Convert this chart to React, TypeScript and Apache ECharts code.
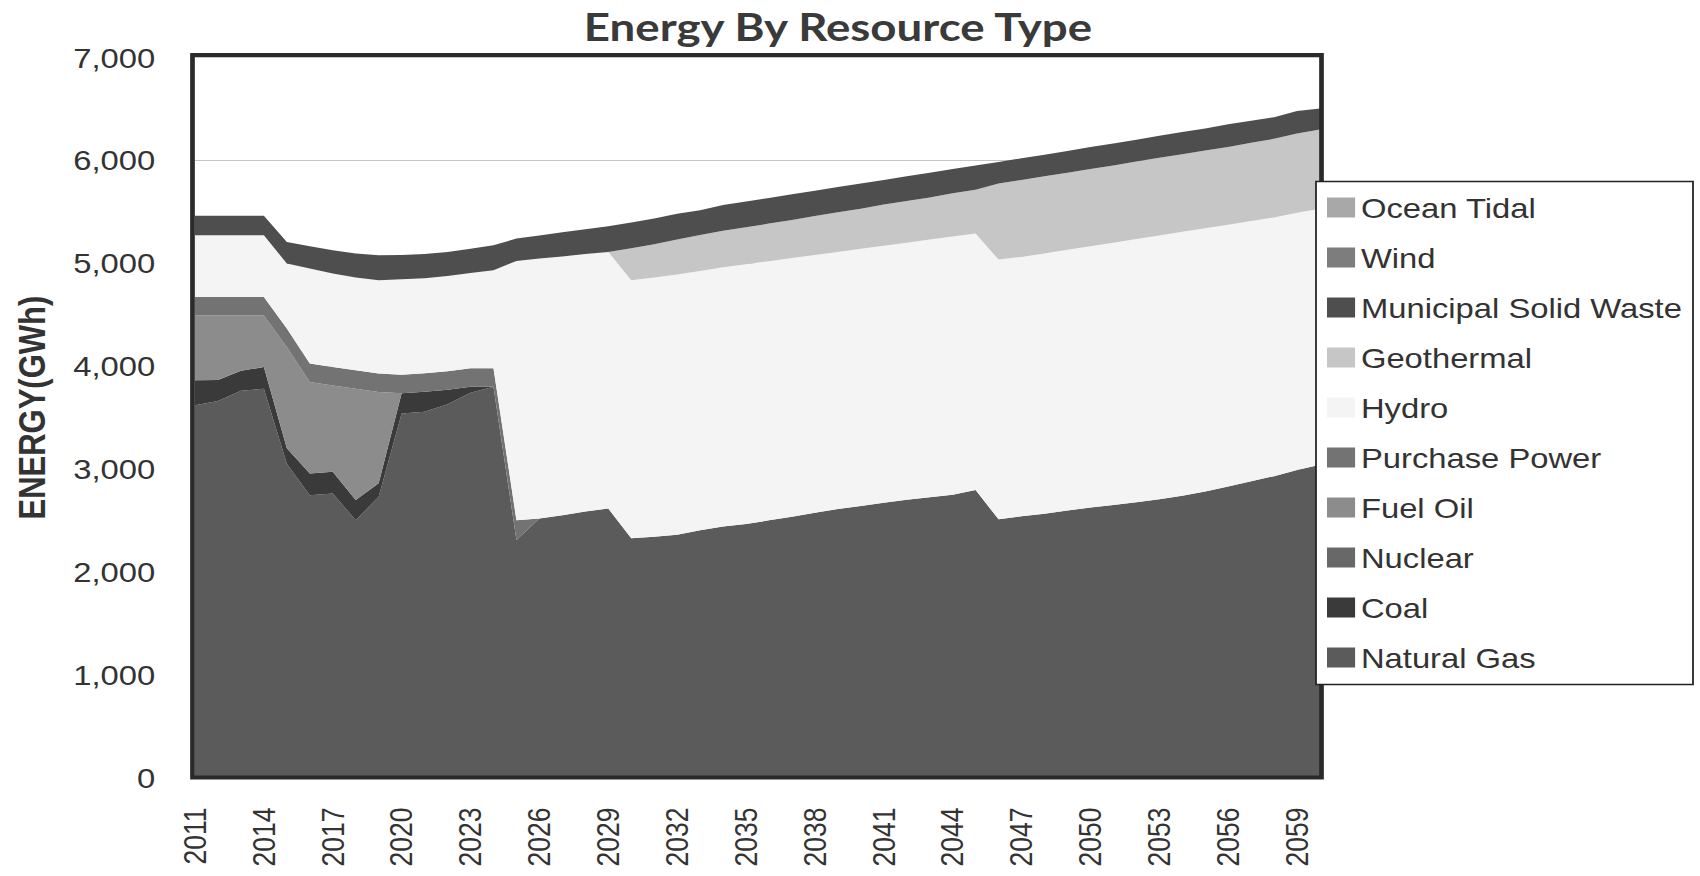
import React, { useEffect, useRef } from "react";
import * as echarts from "echarts";

// ---- data ----
const years = [
  "2011","2012","2013","2014","2015","2016","2017","2018","2019","2020",
  "2021","2022","2023","2024","2025","2026","2027","2028","2029","2030",
  "2031","2032","2033","2034","2035","2036","2037","2038","2039","2040",
  "2041","2042","2043","2044","2045","2046","2047","2048","2049","2050",
  "2051","2052","2053","2054","2055","2056","2057","2058","2059","2060",
];

const naturalGas = [
  3620, 3660, 3760, 3780, 3050, 2745, 2762, 2502, 2730, 3540,
  3555, 3630, 3740, 3800, 2308, 2519, 2550, 2585, 2616, 2325,
  2340, 2360, 2405, 2440, 2465, 2500, 2535, 2575, 2610, 2640,
  2670, 2700, 2725, 2750, 2794, 2510, 2540, 2565, 2595, 2625,
  2650, 2675, 2705, 2740, 2780, 2830, 2880, 2930, 2990, 3040,
];
const coal = [
  243, 204, 194, 210, 150, 211, 210, 195, 130, 195,
  195, 140, 60, 0, 0, 0, 0, 0, 0, 0,
  0, 0, 0, 0, 0, 0, 0, 0, 0, 0,
  0, 0, 0, 0, 0, 0, 0, 0, 0, 0,
  0, 0, 0, 0, 0, 0, 0, 0, 0, 0,
];
const nuclear = [
  0, 0, 0, 0, 0, 0, 0, 0, 0, 0,
  0, 0, 0, 0, 0, 0, 0, 0, 0, 0,
  0, 0, 0, 0, 0, 0, 0, 0, 0, 0,
  0, 0, 0, 0, 0, 0, 0, 0, 0, 0,
  0, 0, 0, 0, 0, 0, 0, 0, 0, 0,
];
const fuelOil = [
  629, 628, 538, 502, 985, 889, 840, 1083, 888, 0,
  0, 0, 0, 0, 0, 0, 0, 0, 0, 0,
  0, 0, 0, 0, 0, 0, 0, 0, 0, 0,
  0, 0, 0, 0, 0, 0, 0, 0, 0, 0,
  0, 0, 0, 0, 0, 0, 0, 0, 0, 0,
];
const purchasePower = [
  180, 180, 180, 180, 180, 180, 180, 180, 180, 180,
  180, 180, 180, 180, 194, 0, 0, 0, 0, 0,
  0, 0, 0, 0, 0, 0, 0, 0, 0, 0,
  0, 0, 0, 0, 0, 0, 0, 0, 0, 0,
  0, 0, 0, 0, 0, 0, 0, 0, 0, 0,
];
const hydro = [
  600, 600, 600, 600, 632, 923, 908, 901, 907, 930,
  925, 925, 925, 952, 2520, 2526, 2515, 2505, 2494, 2510,
  2520, 2530, 2520, 2520, 2525, 2520, 2515, 2505, 2500, 2500,
  2500, 2500, 2505, 2510, 2494, 2525, 2521, 2530, 2535, 2540,
  2550, 2560, 2565, 2565, 2560, 2545, 2530, 2515, 2500, 2490,
];
const geothermal = [
  0, 0, 0, 0, 0, 0, 0, 0, 0, 0,
  0, 0, 0, 0, 0, 0, 0, 0, 0, 310,
  325, 340, 350, 355, 360, 365, 370, 380, 385, 390,
  400, 405, 410, 420, 427, 740, 749, 750, 750, 750,
  750, 755, 755, 755, 755, 755, 760, 765, 770, 770,
];
const municipalSolidWaste = [
  190, 190, 190, 190, 210, 217, 225, 234, 243, 235,
  235, 235, 235, 243, 218, 225, 235, 240, 250, 250,
  250, 250, 240, 250, 250, 250, 250, 245, 245, 245,
  240, 240, 240, 235, 235, 210, 210, 210, 210, 215,
  215, 210, 215, 215, 215, 220, 215, 210, 220, 205,
];
const wind = [
  0, 0, 0, 0, 0, 0, 0, 0, 0, 0,
  0, 0, 0, 0, 0, 0, 0, 0, 0, 0,
  0, 0, 0, 0, 0, 0, 0, 0, 0, 0,
  0, 0, 0, 0, 0, 0, 0, 0, 0, 0,
  0, 0, 0, 0, 0, 0, 0, 0, 0, 0,
];
const oceanTidal = [
  0, 0, 0, 0, 0, 0, 0, 0, 0, 0,
  0, 0, 0, 0, 0, 0, 0, 0, 0, 0,
  0, 0, 0, 0, 0, 0, 0, 0, 0, 0,
  0, 0, 0, 0, 0, 0, 0, 0, 0, 0,
  0, 0, 0, 0, 0, 0, 0, 0, 0, 0,
];

const seriesNames = [
  "Natural Gas", "Coal", "Nuclear", "Fuel Oil", "Purchase Power",
  "Hydro", "Geothermal", "Municipal Solid Waste", "Wind", "Ocean Tidal",
];
const seriesData = [
  naturalGas, coal, nuclear, fuelOil, purchasePower,
  hydro, geothermal, municipalSolidWaste, wind, oceanTidal,
];
const seriesColors = [
  "#5b5b5b", "#3a3a3a", "#686868", "#8c8c8c", "#737373",
  "#f4f4f4", "#c6c6c6", "#4e4e4e", "#7d7d7d", "#a8a8a8",
];
const legendOrder = [
  "Ocean Tidal", "Wind", "Municipal Solid Waste", "Geothermal", "Hydro",
  "Purchase Power", "Fuel Oil", "Nuclear", "Coal", "Natural Gas",
];

const chartTitle = "Energy By Resource Type";
const yAxisTitle = "ENERGY(GWh)";

// ---- layout (the whole picture is stretched horizontally) ----
const W = 1453;
const H = 876;
const K = 1700 / W;
const FONT = '"Liberation Sans", Arial, Helvetica, sans-serif';

export default function App() {
  const ref = useRef<HTMLDivElement>(null);

  useEffect(() => {
    document.body.style.margin = "0";
    document.body.style.overflow = "hidden";
    const chart = echarts.init(ref.current as HTMLDivElement, null, {
      renderer: "svg",
      width: W,
      height: H,
    });

    const gridLeft = 195 / K;
    const gridRight = 1320 / K;
    const gridTop = 57.5;
    const gridBottom = 777.5;

    const option: any = {
      animation: false,
      backgroundColor: "#ffffff",
      grid: {
        left: gridLeft,
        top: gridTop,
        width: gridRight - gridLeft,
        height: gridBottom - gridTop,
        containLabel: false,
      },
      xAxis: {
        type: "category",
        data: years,
        boundaryGap: false,
        axisLine: { show: false },
        axisTick: { show: false },
        splitLine: { show: false },
        axisLabel: {
          interval: 2,
          rotate: 90,
          margin: 30,
          fontSize: 26.5,
          fontFamily: FONT,
          color: "#333333",
        },
      },
      yAxis: {
        type: "value",
        min: 0,
        max: 7000,
        interval: 1000,
        axisLine: { show: false },
        axisTick: { show: false },
        axisLabel: {
          margin: 34,
          fontSize: 28,
          fontFamily: FONT,
          color: "#333333",
          formatter: (v: number) => v.toLocaleString("en-US"),
        },
        splitLine: { lineStyle: { color: "#c4c4c4", width: 1 } },
      },
      legend: {
        orient: "vertical",
        left: 1327 / K,
        top: 192.5,
        itemWidth: 24,
        itemHeight: 20,
        itemGap: 20,
        icon: "rect",
        padding: 0,
        z: 100,
        selectedMode: false,
        data: legendOrder,
        textStyle: {
          fontSize: 28,
          fontFamily: FONT,
          color: "#333333",
          lineHeight: 30,
        },
      },
      series: seriesNames.map((name, i) => ({
        name,
        type: "line",
        stack: "total",
        data: seriesData[i],
        symbol: "none",
        showSymbol: false,
        lineStyle: { width: 0 },
        itemStyle: { color: seriesColors[i] },
        areaStyle: { color: seriesColors[i], opacity: 1 },
        emphasis: { disabled: true },
        z: 2,
      })),
      graphic: {
        elements: [
          {
            type: "rect",
            z: 50,
            silent: true,
            shape: {
              x: 192.5 / K,
              y: 55,
              width: (1321.5 - 192.5) / K,
              height: 777.5 - 55,
            },
            style: { fill: "none", stroke: "#2a2a2a", lineWidth: 4 },
          },
          {
            type: "rect",
            z: 60,
            silent: true,
            shape: {
              x: 1316 / K,
              y: 181.5,
              width: (1693 - 1316) / K,
              height: 503,
            },
            style: { fill: "#ffffff", stroke: "#222222", lineWidth: 1.5 },
          },
          {
            type: "text",
            z: 70,
            x: 838 / K,
            y: 25.5,
            style: {
              text: chartTitle,
              font: 'bold 39px Lato, "Open Sans", sans-serif',
              fill: "#3a3a3a",
              textAlign: "center",
              textVerticalAlign: "middle",
              align: "center",
              verticalAlign: "middle",
            },
          },
          {
            type: "text",
            z: 70,
            x: 32.5 / K,
            y: 407.6,
            rotation: Math.PI / 2,
            style: {
              text: yAxisTitle,
              font: 'bold 31px "Liberation Sans", Arial, sans-serif',
              fill: "#333333",
              textAlign: "center",
              textVerticalAlign: "middle",
              align: "center",
              verticalAlign: "middle",
            },
          },
        ],
      },
    };

    chart.setOption(option);
    return () => {
      chart.dispose();
    };
  }, []);

  return (
    <div
      ref={ref}
      style={{
        position: "absolute",
        left: 0,
        top: 0,
        width: W,
        height: H,
        transform: `scaleX(${K})`,
        transformOrigin: "0 0",
        background: "#ffffff",
      }}
    />
  );
}
